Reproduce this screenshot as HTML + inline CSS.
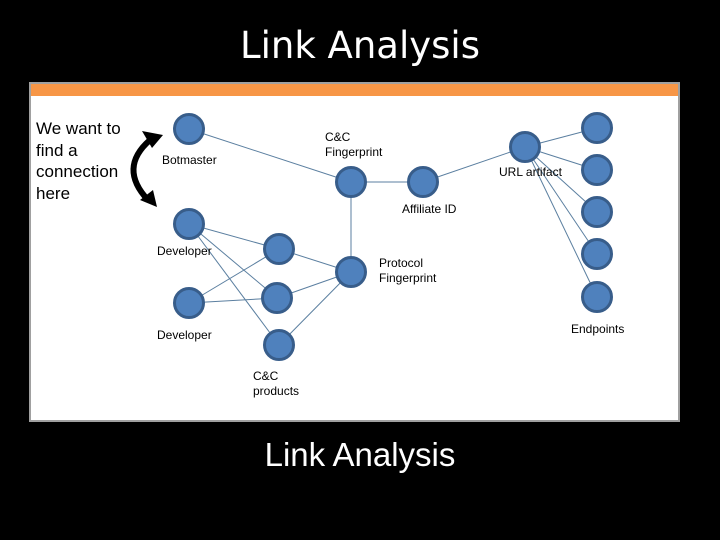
<!DOCTYPE html>
<html><head><style>
body{margin:0;background:#000;width:720px;height:540px;overflow:hidden;position:relative;font-family:"Liberation Sans",sans-serif}
.t{position:absolute;color:#fff}
</style></head><body>
<div class="t" style="left:0;width:720px;top:24px;text-align:center;font-size:37px;font-family:'DejaVu Sans','Liberation Sans',sans-serif;">Link Analysis</div>
<div class="t" style="left:0;width:720px;top:436px;text-align:center;font-size:33px;">Link Analysis</div>
<svg width="720" height="540" style="position:absolute;left:0;top:0">
<rect x="29" y="82" width="651" height="340" fill="#a0a0a0"/>
<rect x="31" y="84" width="647" height="336" fill="#fff"/>
<rect x="31" y="84" width="647" height="12" fill="#f79646"/>
<g stroke="#5b7fa0" stroke-width="1" fill="none">
<line x1="189" y1="129" x2="351" y2="182"/>
<line x1="351" y1="182" x2="423" y2="182"/>
<line x1="423" y1="182" x2="525" y2="147"/>
<line x1="525" y1="147" x2="597" y2="128"/>
<line x1="525" y1="147" x2="597" y2="170"/>
<line x1="525" y1="147" x2="597" y2="212"/>
<line x1="525" y1="147" x2="597" y2="254"/>
<line x1="525" y1="147" x2="597" y2="297"/>
<line x1="351" y1="182" x2="351" y2="272"/>
<line x1="189" y1="224" x2="279" y2="249"/>
<line x1="189" y1="224" x2="277" y2="298"/>
<line x1="189" y1="224" x2="279" y2="345"/>
<line x1="189" y1="303" x2="279" y2="249"/>
<line x1="189" y1="303" x2="277" y2="298"/>
<line x1="279" y1="249" x2="351" y2="272"/>
<line x1="277" y1="298" x2="351" y2="272"/>
<line x1="279" y1="345" x2="351" y2="272"/>
</g>
<g fill="#4f81bd" stroke="#385d8a" stroke-width="3">
<circle cx="189" cy="129" r="14.5"/><circle cx="351" cy="182" r="14.5"/><circle cx="423" cy="182" r="14.5"/><circle cx="525" cy="147" r="14.5"/>
<circle cx="597" cy="128" r="14.5"/><circle cx="597" cy="170" r="14.5"/><circle cx="597" cy="212" r="14.5"/><circle cx="597" cy="254" r="14.5"/><circle cx="597" cy="297" r="14.5"/>
<circle cx="189" cy="224" r="14.5"/><circle cx="189" cy="303" r="14.5"/><circle cx="279" cy="249" r="14.5"/><circle cx="277" cy="298" r="14.5"/><circle cx="279" cy="345" r="14.5"/><circle cx="351" cy="272" r="14.5"/>
</g>
<path d="M150,140 Q118,168 148,200" stroke="#000" stroke-width="6" fill="none"/>
<polygon points="142,131 163,135 152,148" fill="#000"/>
<polygon points="140,200 157,207 153,190" fill="#000"/>
<g font-family="Liberation Sans,sans-serif" font-size="12" fill="#000">
<text x="162" y="164">Botmaster</text>
<text x="325" y="141">C&amp;C</text><text x="325" y="156">Fingerprint</text>
<text x="499" y="176">URL artifact</text>
<text x="402" y="213">Affiliate ID</text>
<text x="157" y="255">Developer</text>
<text x="379" y="267">Protocol</text><text x="379" y="282">Fingerprint</text>
<text x="157" y="339">Developer</text>
<text x="571" y="333">Endpoints</text>
<text x="253" y="380">C&amp;C</text><text x="253" y="395">products</text>
</g>
<g font-family="Liberation Sans,sans-serif" font-size="17" fill="#000">
<text x="36" y="134">We want to</text><text x="36" y="156">find a</text><text x="36" y="177">connection</text><text x="36" y="199">here</text>
</g>
</svg>
</body></html>
